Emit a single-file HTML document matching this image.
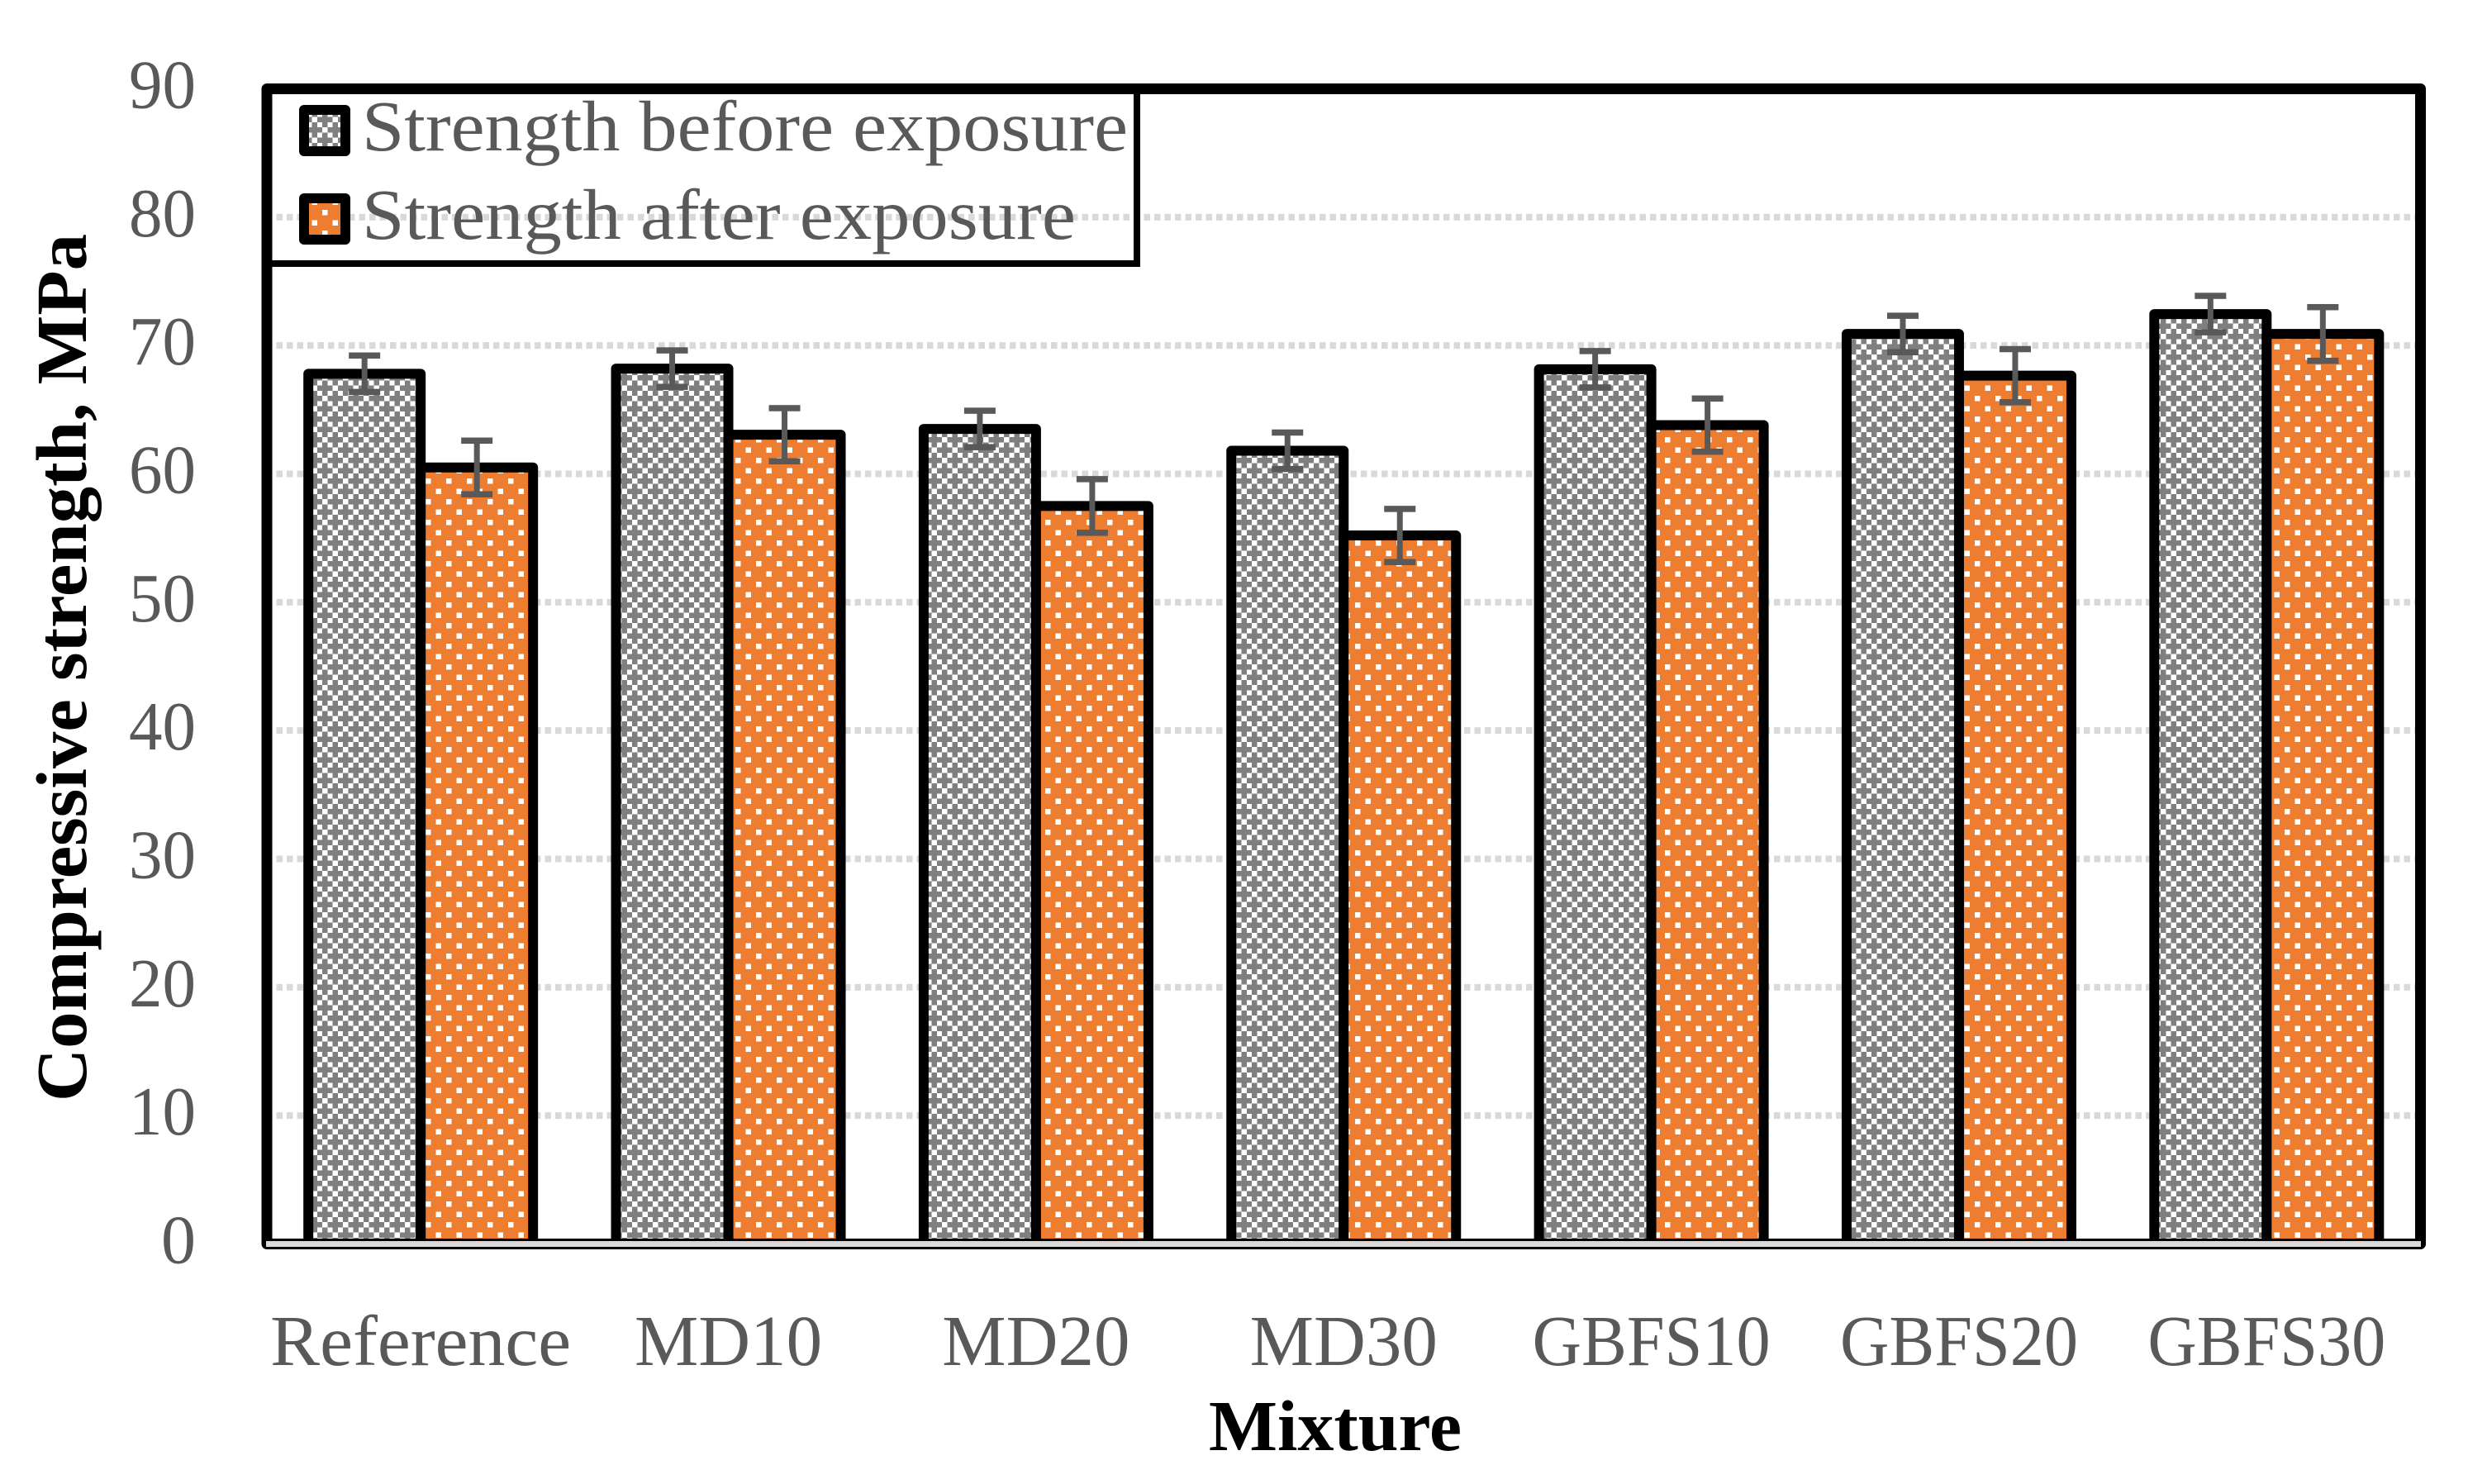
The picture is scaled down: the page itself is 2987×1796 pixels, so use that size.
<!DOCTYPE html>
<html lang="en">
<head>
<meta charset="utf-8">
<title>Compressive strength before and after exposure</title>
<style>
html,body{margin:0;padding:0;background:#fff;}
svg{display:block;}
text{font-family:"Liberation Serif",serif;}
.tick{font-size:84px;fill:#595959;}
.cat{font-size:87px;fill:#595959;}
.leg{font-size:87px;fill:#595959;}
.title{font-size:87px;font-weight:bold;fill:#000;}
</style>
</head>
<body>
<svg id="chart" xmlns="http://www.w3.org/2000/svg" width="2987" height="1796" viewBox="0 0 2987 1796">
  <defs>
    <pattern id="pat-check" patternUnits="userSpaceOnUse" x="2.5" y="4" width="25" height="25">
      <rect width="25" height="25" fill="#7F7F7F" shape-rendering="crispEdges"/>
      <g fill="#fff" shape-rendering="crispEdges">
        <rect x="12.5" y="0" width="6.25" height="6.25"/>
        <rect x="6.25" y="6.25" width="6.25" height="6.25"/>
        <rect x="18.75" y="6.25" width="6.25" height="6.25"/>
        <rect x="0" y="12.5" width="6.25" height="6.25"/>
        <rect x="6.25" y="18.75" width="6.25" height="6.25"/>
        <rect x="18.75" y="18.75" width="6.25" height="6.25"/>
      </g>
    </pattern>
    <pattern id="pat-dots" patternUnits="userSpaceOnUse" x="2.5" y="4" width="25" height="25">
      <rect width="25" height="25" fill="#ED7D31" shape-rendering="crispEdges"/>
      <g fill="#fff" shape-rendering="crispEdges">
        <rect x="12.5" y="0" width="6.25" height="6.25"/>
        <rect x="0" y="12.5" width="6.25" height="6.25"/>
      </g>
    </pattern>
  </defs>

  <rect x="0" y="0" width="2987" height="1796" fill="#fff"/>
  <g id="grid"></g>
  <g id="bars"></g>
  <g id="errs"></g>

  <rect x="323" y="107.5" width="2606.5" height="1398" fill="none" stroke="#000" stroke-width="13" stroke-linejoin="round"/>
  <line x1="322" x2="2930" y1="1505.5" y2="1505.5" stroke="#D9D9D9" stroke-width="7"/>

  <g id="ticks"></g>
  <g id="cats"></g>

  <g>
    <rect x="323" y="107" width="1053" height="212" fill="none" stroke="#000" stroke-width="8"/>
    <rect x="368" y="133" width="50" height="50" fill="url(#pat-check)" stroke="#000" stroke-width="12" stroke-linejoin="round"/>
    <text class="leg" x="438" y="182" textLength="927" lengthAdjust="spacingAndGlyphs">Strength before exposure</text>
    <rect x="368" y="240" width="50" height="50" fill="url(#pat-dots)" stroke="#000" stroke-width="12" stroke-linejoin="round"/>
    <text class="leg" x="438" y="289" textLength="864" lengthAdjust="spacingAndGlyphs">Strength after exposure</text>
  </g>

  <text class="title" transform="translate(104 1333) rotate(-90)" x="0" y="0" textLength="1050" lengthAdjust="spacingAndGlyphs">Compressive strength, MPa</text>
  <text class="title" x="1463" y="1755" textLength="306" lengthAdjust="spacingAndGlyphs">Mixture</text>
</svg>

<script>
const categories = ["Reference", "MD10", "MD20", "MD30", "GBFS10", "GBFS20", "GBFS30"];
const strengthBefore = [67.8, 68.2, 63.5, 61.8, 68.15, 70.9, 72.45];
const strengthAfter = [60.5, 63.05, 57.5, 55.2, 63.8, 67.65, 70.9];
const errorBefore = [1.42, 1.42, 1.42, 1.42, 1.42, 1.42, 1.42];
const errorAfter = [2.09, 2.07, 2.09, 2.07, 2.07, 2.07, 2.09];
const yTicks = [0, 10, 20, 30, 40, 50, 60, 70, 80, 90];

const NS = "http://www.w3.org/2000/svg";
const plotLeft = 323, plotRight = 2929.5, plotTop = 107.5, plotBottom = 1505.5, yMax = 90;
const barWidth = 136;

function yScale(v) {
  return plotBottom - (v / yMax) * (plotBottom - plotTop);
}
function xCenter(i) {
  return plotLeft + (plotRight - plotLeft) * (i + 0.5) / categories.length;
}
function make(tag, attrs, parent) {
  const el = document.createElementNS(NS, tag);
  for (const k in attrs) el.setAttribute(k, attrs[k]);
  parent.appendChild(el);
  return el;
}

const grid = document.getElementById("grid");
const ticks = document.getElementById("ticks");
yTicks.forEach(function (t) {
  if (t > 0 && t < yMax) {
    const ln = make("line", {x1: 334.5, x2: 2923, y1: yScale(t), y2: yScale(t), stroke: "#D9D9D9", "stroke-width": 8, "stroke-dasharray": "7.5 5"}, grid);
    
    
  }
  const lbl = make("text", {class: "tick", x: 237, y: yScale(t) + 23, "text-anchor": "end"}, ticks);
  lbl.textContent = String(t);
  if (t > 0) {
    lbl.setAttribute("textLength", 81);
    lbl.setAttribute("lengthAdjust", "spacingAndGlyphs");
  }
  
  
});

const bars = document.getElementById("bars");
const errs = document.getElementById("errs");
const cats = document.getElementById("cats");

function drawBar(x, v, fill) {
  const r = make("rect", {x: x, y: yScale(v), width: barWidth, height: plotBottom - yScale(v), fill: fill, stroke: "#000", "stroke-width": 12, "stroke-linejoin": "round"}, bars);
  return r;
}
function drawError(cx, v, e) {
  const g = make("g", {fill: "#595959"}, errs);
  const top = yScale(v + e), bot = yScale(v - e);
  make("rect", {x: cx - 3.5, y: top, width: 7, height: bot - top}, g);
  make("rect", {x: cx - 19, y: top - 3.75, width: 38, height: 7.5}, g);
  make("rect", {x: cx - 19, y: bot - 3.75, width: 38, height: 7.5}, g);
  return g;
}

categories.forEach(function (name, i) {
  const c = xCenter(i);

  const b1 = drawBar(c - barWidth, strengthBefore[i], "url(#pat-check)");
  
  

  const b2 = drawBar(c, strengthAfter[i], "url(#pat-dots)");
  
  

  const e1 = drawError(c - barWidth / 2, strengthBefore[i], errorBefore[i]);
  
  

  const e2 = drawError(c + barWidth / 2, strengthAfter[i], errorAfter[i]);
  
  

  const t = make("text", {class: "cat", x: c, y: 1652, "text-anchor": "middle"}, cats);
  t.textContent = name;
  
  
  if (name.indexOf("GBFS") === 0) {
    t.setAttribute("textLength", 288);
    t.setAttribute("lengthAdjust", "spacingAndGlyphs");
  }
  if (name === "Reference") {
    t.setAttribute("textLength", 364);
    t.setAttribute("lengthAdjust", "spacingAndGlyphs");
  }
});
</script>
</body>
</html>
